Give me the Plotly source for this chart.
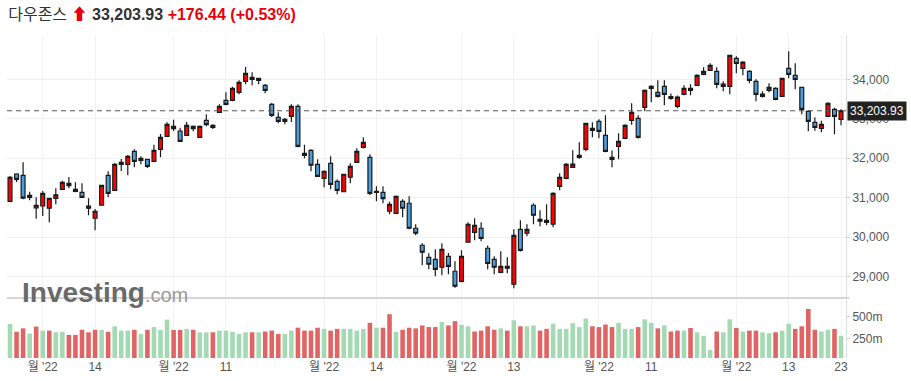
import plotly.graph_objects as go
import pandas as pd

# ---------------- data ----------------
holidays = ["2022-07-04", "2022-09-05", "2022-11-24"]
dates = [d.strftime("%Y-%m-%d") for d in pd.bdate_range("2022-06-24", "2022-12-23")
         if d.strftime("%Y-%m-%d") not in holidays]

opens = [30911,31602,31569,31063,30741,30792,30734,30987,31215,31367,
         31215,31139,30734,30481,30810,31569,31189,31848,31848,32177,
         31949,31974,31924,32228,32557,32810,32691,32582,32810,32531,
         32962,32835,33164,33468,33468,33671,33949,34051,33975,33848,
         33367,33038,32937,33063,33316,32076,32202,31848,31493,31873,
         31417,31154,31519,31898,32278,32025,31164,31139,30658,30607,
         30911,30861,30228,29797,29493,29442,29240,29518,29139,28885,
         29873,30126,30228,29721,29442,29113,29265,28810,30202,30101,
         30810,30455,30430,30329,31291,31493,31772,32076,32228,32709,
         32937,32582,31974,32304,32506,32962,33012,33291,33823,33671,
         33823,33519,33316,33620,33772,33848,34127,34228,34203,33823,
         33823,34532,34279,34203,33949,33570,33721,33772,33570,34279,
         34101,33797,33190,32911,32759,33063,33240,32987]
highs = [31550,31620,31898,31154,31012,31172,31003,31240,31433,31526,
         31392,31367,30987,30716,31331,31671,31881,31982,32083,32228,
         32050,31990,32344,32615,32911,32977,32775,32919,32830,32830,
         33114,32860,33367,33671,33813,33975,34311,34177,34040,33880,
         33400,33164,33020,33367,33367,32344,32230,31974,31690,32050,
         31460,31610,31873,32253,32531,32100,31291,31291,30900,31060,
         30960,31038,30329,29850,29594,29696,29848,29600,29392,29670,
         30380,30481,30380,29790,29520,29645,29493,30202,30430,30329,
         30860,30683,30835,31140,31620,31880,32202,32405,32900,32910,
         32990,33088,32200,32633,32860,33392,33088,33740,33850,33975,
         33975,33640,33590,33848,33873,34127,34304,34405,34304,33949,
         34620,34583,34460,34230,34000,33700,33898,33800,34030,34709,
         34405,33810,33210,33038,32950,33420,33280,33240]
lows = [30890,31400,30962,30937,30470,30538,30379,30835,31197,31240,
        31139,30995,30556,30177,30800,31012,31170,31678,31569,31772,
        31848,31754,31910,32025,32540,32691,32420,32570,32683,32520,
        32810,32740,33147,33342,33443,33620,33873,33848,33873,33646,
        33045,32886,32861,32919,32278,32000,31671,31530,31265,31215,
        31088,31140,31367,31890,32250,31063,30911,30861,30582,30600,
        30506,30200,30050,29290,29189,29012,29037,29063,28720,28860,
        29860,29924,29898,29189,29063,29090,29090,28708,29640,30025,
        30329,30278,30304,30253,31189,31468,31760,31990,32177,32531,
        32506,32150,31772,31974,32480,32850,32500,33190,33418,33540,
        33342,33480,33266,33595,33595,33830,34100,34210,33772,33696,
        33620,34152,34101,33898,33443,33540,33671,33470,33560,34025,
        33747,33114,32683,32700,32658,33050,32607,32835]
closes = [31520,31468,30990,31012,30810,31113,30987,31071,31392,31306,
          31164,31012,30792,30658,31316,31113,31848,31898,32050,31924,
          32000,31797,32202,32531,32861,32749,32430,32835,32749,32810,
          32850,32785,33316,33367,33772,33924,34152,34000,34025,33721,
          33088,32937,32987,33316,32304,32126,31823,31544,31671,31341,
          31189,31595,31797,32177,32405,31110,31135,30977,30835,31038,
          30734,30228,30101,29620,29316,29189,29696,29265,28759,29518,
          30329,30304,29974,29341,29240,29265,29215,30050,29670,30202,
          30557,30405,30379,31113,31519,31848,31852,32025,32886,32759,
          32683,32177,32025,32430,32835,33164,32531,33722,33772,33570,
          33620,33560,33548,33772,33721,34101,34203,34354,33873,33880,
          34608,34400,34435,33975,33620,33625,33797,33494,34025,34127,
          34000,33240,32937,32785,32861,33392,33063,33203.93]
volumes_m = [421,332,371,312,391,345,345,326,332,296,
             296,355,326,355,352,332,394,345,345,355,
             306,355,385,352,470,352,352,365,355,326,
             326,326,345,345,332,306,326,326,326,335,
             345,306,306,345,378,345,345,378,365,345,
             365,365,365,345,365,434,378,378,532,332,
             355,378,371,404,385,385,444,404,453,411,
             394,335,345,394,355,371,345,463,394,394,
             404,345,365,424,365,365,430,385,483,394,
             385,414,385,434,365,365,385,473,434,371,
             404,335,345,345,375,326,286,126,335,326,
             473,375,335,345,345,326,316,326,345,424,
             365,394,591,355,335,355,365,286]

price_ticks = [29000, 30000, 31000, 32000, 33000, 34000]
volume_ticks = [250, 500]
volume_tick_labels = ["250m", "500m"]
tick_dates = ["2022-07-01", "2022-07-14", "2022-08-01", "2022-08-11", "2022-09-01",
              "2022-09-14", "2022-10-03", "2022-10-13", "2022-11-01", "2022-11-11",
              "2022-12-01", "2022-12-13", "2022-12-23"]
tick_labels = ["월 '22", "14", "월 '22", "11", "월 '22", "14", "월 '22", "13",
               "월 '22", "11", "월 '22", "13", "23"]

last_close = closes[-1]
change = 176.44
change_pct = 0.53

# ---------------- styling ----------------
UP_CANDLE = "#ff0000"
DOWN_CANDLE = "#4d9ddc"
VOL_UP = "#a4dab3"
VOL_DOWN = "#e06464"
FONT = "Liberation Sans, Noto Sans CJK KR, sans-serif"

prev = [opens[0]] + closes[:-1]
vol_colors = [VOL_UP if c >= p else VOL_DOWN for c, p in zip(closes, prev)]

fig = go.Figure()
fig.add_trace(go.Candlestick(
    x=dates, open=opens, high=highs, low=lows, close=closes,
    xaxis="x", yaxis="y",
    increasing=dict(fillcolor=UP_CANDLE, line=dict(color="#1a1a1a", width=1.2)),
    decreasing=dict(fillcolor=DOWN_CANDLE, line=dict(color="#1a1a1a", width=1.2)),
    whiskerwidth=0, showlegend=False, hoverinfo="skip"))
fig.add_trace(go.Bar(
    x=dates, y=volumes_m, xaxis="x2", yaxis="y2",
    marker=dict(color=vol_colors, line=dict(width=0)),
    showlegend=False, hoverinfo="skip"))

x_range = [-0.46, 127.76]
price_dom = [0.1858, 1]
vol_dom = [0, 0.1796]

fig.update_layout(
    width=911, height=381,
    margin=dict(l=7, r=65, t=35, b=23),
    paper_bgcolor="white", plot_bgcolor="white",
    font=dict(family=FONT, size=12, color="#555"),
    bargap=0.3, boxgap=0.15,
    title=dict(
        text=("다우존스 <span style='color:#e8000b'>⬆</span> <b>33,203.93</b> "
              f"<span style='color:#e8000b'><b>+{change:.2f}</b> <b>(+{change_pct:.2f}%)</b></span>"),
        x=0.009, xref="container", xanchor="left",
        y=0.962, yref="container", yanchor="middle",
        font=dict(family=FONT, size=16, color="#333")),
    xaxis=dict(type="category", range=x_range, domain=[0, 1], anchor="y",
               showticklabels=False, tickvals=tick_dates, ticks="",
               showgrid=True, gridcolor="#f2f2f2", gridwidth=1,
               rangeslider=dict(visible=False), zeroline=False),
    xaxis2=dict(type="category", range=x_range, domain=[0, 1], anchor="y2", matches="x",
                tickvals=tick_dates, ticktext=tick_labels, ticks="",
                tickfont=dict(size=12, color="#555"),
                showgrid=True, gridcolor="#f2f2f2", gridwidth=1, zeroline=False),
    yaxis=dict(domain=price_dom, range=[28462, 35122], side="right",
               tickvals=price_ticks, tickformat=",", ticks="outside", ticklen=3,
               tickcolor="#d0d0d0", showgrid=True, gridcolor="#f0f0f0",
               showline=True, linecolor="#dcdcdc", linewidth=1, zeroline=False,
               tickfont=dict(size=12, color="#555")),
    yaxis2=dict(domain=vol_dom, range=[34, 693], side="right",
                tickvals=volume_ticks, ticktext=volume_tick_labels,
                ticks="outside", ticklen=3, tickcolor="#d0d0d0",
                showgrid=False, showline=True, linecolor="#dcdcdc", linewidth=1,
                zeroline=False, tickfont=dict(size=12, color="#555")),
)

# separator between price and volume panes
fig.add_shape(type="line", xref="paper", yref="paper", x0=0, x1=1.004,
              y0=price_dom[0], y1=price_dom[0], line=dict(color="#c8c8c8", width=1.5))
# last price dashed line
fig.add_shape(type="line", xref="paper", yref="y", x0=0, x1=1,
              y0=last_close, y1=last_close, line=dict(color="#555", width=1.2, dash="5px,4px"))
# last price label
fig.add_annotation(xref="paper", yref="y", x=1, y=last_close, xanchor="left", xshift=1,
                   text=f"{last_close:,.2f}", showarrow=False, bgcolor="#222",
                   font=dict(color="white", size=12, family=FONT), borderpad=2)
# watermark
fig.add_annotation(xref="paper", yref="paper", x=0.016, y=0.204, xanchor="left", yanchor="middle",
                   text="<b>Investing</b><span style='font-size:20px;color:#9a9a9a'>.com</span>",
                   showarrow=False, font=dict(size=28, color="#6a6a6a", family=FONT))

fig.write_html("out.html", config={"displayModeBar": False},
               post_script="document.body.style.margin='0';document.body.style.overflow='hidden';")
